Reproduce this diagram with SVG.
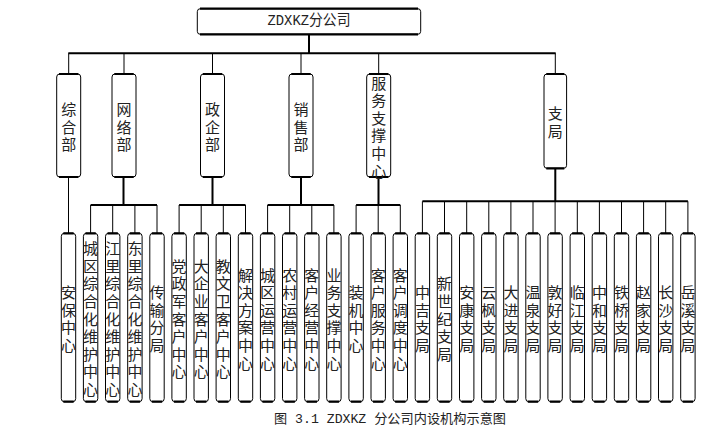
<svg xmlns="http://www.w3.org/2000/svg" width="725" height="434" viewBox="0 0 725 434">
<style>
.box{fill:#fff;stroke:#000;stroke-width:1}
.edge{fill:none;stroke:#000;stroke-width:2.2}
.t{font-family:"Noto Sans CJK SC","Liberation Sans",sans-serif;font-size:15px;fill:#222;text-anchor:middle;dominant-baseline:central}
.top{font-family:"Liberation Mono","Noto Sans CJK SC",monospace;font-size:15px;fill:#222;text-anchor:middle;dominant-baseline:central}
.cap{font-family:"Liberation Mono","Noto Sans CJK SC",monospace;font-size:13px;fill:#222}
.thick{fill:none;stroke:#000;stroke-width:2}
.thin{fill:none;stroke:#000;stroke-width:1}
</style>
<rect width="725" height="434" fill="#fff"/>
<g id="connectors">
<path class="thick" d="M309 34.3V53.3M68.3 53.3H555.7"/>
<path class="thin" d="M68.7 53.3V74M124 53.3V74M212.5 53.3V74M301 53.3V74M378.7 53.3V74M555.3 53.3V74"/>
<path class="thin" d="M68.5 177V233.3"/>
<path class="thick" d="M123.5 177V205M90.6 205H157M212.5 177V205M179.1 205H245.5M301 177V205M267.6 205H333.9M378.5 177V205M356.1 205H400.3M555.3 168.3V201.3M422.4 201.3H687.9"/>
<path class="thin" d="M90.6 205V233.3M112.7 205V233.3M134.9 205V233.3M157 205V233.3M179.1 205V233.3M201.2 205V233.3M223.3 205V233.3M245.5 205V233.3M267.6 205V233.3M289.7 205V233.3M311.8 205V233.3M333.9 205V233.3M356.1 205V233.3M378.2 205V233.3M400.3 205V233.3"/>
<path class="thin" d="M422.4 201.3V233.3M444.5 201.3V233.3M466.7 201.3V233.3M488.8 201.3V233.3M510.9 201.3V233.3M533 201.3V233.3M555.1 201.3V233.3M577.3 201.3V233.3M599.4 201.3V233.3M621.5 201.3V233.3M643.6 201.3V233.3M665.7 201.3V233.3M687.9 201.3V233.3"/>
</g>
<g id="root">
<rect class="box" x="197.3" y="8.7" width="223.4" height="25.6" rx="3"/>
<path class="edge" d="M200 8.7H418M200 34.3H418"/>
<text class="top" x="309" y="21" textLength="83" lengthAdjust="spacingAndGlyphs">ZDXKZ分公司</text>
</g>
<g id="n-zonghe">
<rect class="box" x="56.7" y="74" width="24" height="103" rx="3"/>
<path class="edge" d="M59 74H78.4M59 177H78.4"/>
<text class="t"><tspan x="68.7" y="107.9">综</tspan><tspan x="68.7" y="125.5">合</tspan><tspan x="68.7" y="143.1">部</tspan></text>
</g>
<g id="n-wangluo">
<rect class="box" x="112" y="74" width="24" height="103" rx="3"/>
<path class="edge" d="M114.3 74H133.7M114.3 177H133.7"/>
<text class="t"><tspan x="124" y="107.9">网</tspan><tspan x="124" y="125.5">络</tspan><tspan x="124" y="143.1">部</tspan></text>
</g>
<g id="n-zhengqi">
<rect class="box" x="200.5" y="74" width="24" height="103" rx="3"/>
<path class="edge" d="M202.8 74H222.2M202.8 177H222.2"/>
<text class="t"><tspan x="212.5" y="107.9">政</tspan><tspan x="212.5" y="125.5">企</tspan><tspan x="212.5" y="143.1">部</tspan></text>
</g>
<g id="n-xiaoshou">
<rect class="box" x="289" y="74" width="24" height="103" rx="3"/>
<path class="edge" d="M291.3 74H310.7M291.3 177H310.7"/>
<text class="t"><tspan x="301" y="107.9">销</tspan><tspan x="301" y="125.5">售</tspan><tspan x="301" y="143.1">部</tspan></text>
</g>
<g id="n-fuwu">
<rect class="box" x="366.7" y="74" width="24" height="103" rx="3"/>
<path class="edge" d="M369 74H388.4M369 177H388.4"/>
<text class="t"><tspan x="378.7" y="81.5">服</tspan><tspan x="378.7" y="99.1">务</tspan><tspan x="378.7" y="116.7">支</tspan><tspan x="378.7" y="134.3">撑</tspan><tspan x="378.7" y="151.9">中</tspan><tspan x="378.7" y="169.5">心</tspan></text>
</g>
<g id="n-zhiju">
<rect class="box" x="544" y="74" width="22.6" height="94.3" rx="3"/>
<path class="edge" d="M546.3 74H564.3M546.3 168.3H564.3"/>
<text class="t"><tspan x="555.3" y="112.4">支</tspan><tspan x="555.3" y="130">局</tspan></text>
</g>
<g id="b0"><rect class="box" x="61.3" y="233.3" width="14.4" height="168.4" rx="3"/><path class="edge" d="M63.3 233.3H73.7M63.3 401.7H73.7"/>
<text class="t"><tspan x="68.5" y="291.1">安</tspan><tspan x="68.5" y="308.7">保</tspan><tspan x="68.5" y="326.3">中</tspan><tspan x="68.5" y="343.9">心</tspan></text></g>
<g id="b1"><rect class="box" x="83.4" y="233.3" width="14.4" height="168.4" rx="3"/><path class="edge" d="M85.4 233.3H95.8M85.4 401.7H95.8"/>
<text class="t"><tspan x="90.6" y="247.1">城</tspan><tspan x="90.6" y="264.7">区</tspan><tspan x="90.6" y="282.3">综</tspan><tspan x="90.6" y="299.9">合</tspan><tspan x="90.6" y="317.5">化</tspan><tspan x="90.6" y="335.1">维</tspan><tspan x="90.6" y="352.7">护</tspan><tspan x="90.6" y="370.3">中</tspan><tspan x="90.6" y="387.9">心</tspan></text></g>
<g id="b2"><rect class="box" x="105.5" y="233.3" width="14.4" height="168.4" rx="3"/><path class="edge" d="M107.5 233.3H117.9M107.5 401.7H117.9"/>
<text class="t"><tspan x="112.7" y="247.1">江</tspan><tspan x="112.7" y="264.7">里</tspan><tspan x="112.7" y="282.3">综</tspan><tspan x="112.7" y="299.9">合</tspan><tspan x="112.7" y="317.5">化</tspan><tspan x="112.7" y="335.1">维</tspan><tspan x="112.7" y="352.7">护</tspan><tspan x="112.7" y="370.3">中</tspan><tspan x="112.7" y="387.9">心</tspan></text></g>
<g id="b3"><rect class="box" x="127.7" y="233.3" width="14.4" height="168.4" rx="3"/><path class="edge" d="M129.7 233.3H140.1M129.7 401.7H140.1"/>
<text class="t"><tspan x="134.9" y="247.1">东</tspan><tspan x="134.9" y="264.7">里</tspan><tspan x="134.9" y="282.3">综</tspan><tspan x="134.9" y="299.9">合</tspan><tspan x="134.9" y="317.5">化</tspan><tspan x="134.9" y="335.1">维</tspan><tspan x="134.9" y="352.7">护</tspan><tspan x="134.9" y="370.3">中</tspan><tspan x="134.9" y="387.9">心</tspan></text></g>
<g id="b4"><rect class="box" x="149.8" y="233.3" width="14.4" height="168.4" rx="3"/><path class="edge" d="M151.8 233.3H162.2M151.8 401.7H162.2"/>
<text class="t"><tspan x="157" y="291.1">传</tspan><tspan x="157" y="308.7">输</tspan><tspan x="157" y="326.3">分</tspan><tspan x="157" y="343.9">局</tspan></text></g>
<g id="b5"><rect class="box" x="171.9" y="233.3" width="14.4" height="168.4" rx="3"/><path class="edge" d="M173.9 233.3H184.3M173.9 401.7H184.3"/>
<text class="t"><tspan x="179.1" y="264.7">党</tspan><tspan x="179.1" y="282.3">政</tspan><tspan x="179.1" y="299.9">军</tspan><tspan x="179.1" y="317.5">客</tspan><tspan x="179.1" y="335.1">户</tspan><tspan x="179.1" y="352.7">中</tspan><tspan x="179.1" y="370.3">心</tspan></text></g>
<g id="b6"><rect class="box" x="194" y="233.3" width="14.4" height="168.4" rx="3"/><path class="edge" d="M196 233.3H206.4M196 401.7H206.4"/>
<text class="t"><tspan x="201.2" y="264.7">大</tspan><tspan x="201.2" y="282.3">企</tspan><tspan x="201.2" y="299.9">业</tspan><tspan x="201.2" y="317.5">客</tspan><tspan x="201.2" y="335.1">户</tspan><tspan x="201.2" y="352.7">中</tspan><tspan x="201.2" y="370.3">心</tspan></text></g>
<g id="b7"><rect class="box" x="216.1" y="233.3" width="14.4" height="168.4" rx="3"/><path class="edge" d="M218.1 233.3H228.5M218.1 401.7H228.5"/>
<text class="t"><tspan x="223.3" y="264.7">教</tspan><tspan x="223.3" y="282.3">文</tspan><tspan x="223.3" y="299.9">卫</tspan><tspan x="223.3" y="317.5">客</tspan><tspan x="223.3" y="335.1">户</tspan><tspan x="223.3" y="352.7">中</tspan><tspan x="223.3" y="370.3">心</tspan></text></g>
<g id="b8"><rect class="box" x="238.3" y="233.3" width="14.4" height="168.4" rx="3"/><path class="edge" d="M240.3 233.3H250.7M240.3 401.7H250.7"/>
<text class="t"><tspan x="245.5" y="273.5">解</tspan><tspan x="245.5" y="291.1">决</tspan><tspan x="245.5" y="308.7">方</tspan><tspan x="245.5" y="326.3">案</tspan><tspan x="245.5" y="343.9">中</tspan><tspan x="245.5" y="361.5">心</tspan></text></g>
<g id="b9"><rect class="box" x="260.4" y="233.3" width="14.4" height="168.4" rx="3"/><path class="edge" d="M262.4 233.3H272.8M262.4 401.7H272.8"/>
<text class="t"><tspan x="267.6" y="273.5">城</tspan><tspan x="267.6" y="291.1">区</tspan><tspan x="267.6" y="308.7">运</tspan><tspan x="267.6" y="326.3">营</tspan><tspan x="267.6" y="343.9">中</tspan><tspan x="267.6" y="361.5">心</tspan></text></g>
<g id="b10"><rect class="box" x="282.5" y="233.3" width="14.4" height="168.4" rx="3"/><path class="edge" d="M284.5 233.3H294.9M284.5 401.7H294.9"/>
<text class="t"><tspan x="289.7" y="273.5">农</tspan><tspan x="289.7" y="291.1">村</tspan><tspan x="289.7" y="308.7">运</tspan><tspan x="289.7" y="326.3">营</tspan><tspan x="289.7" y="343.9">中</tspan><tspan x="289.7" y="361.5">心</tspan></text></g>
<g id="b11"><rect class="box" x="304.6" y="233.3" width="14.4" height="168.4" rx="3"/><path class="edge" d="M306.6 233.3H317M306.6 401.7H317"/>
<text class="t"><tspan x="311.8" y="273.5">客</tspan><tspan x="311.8" y="291.1">户</tspan><tspan x="311.8" y="308.7">经</tspan><tspan x="311.8" y="326.3">营</tspan><tspan x="311.8" y="343.9">中</tspan><tspan x="311.8" y="361.5">心</tspan></text></g>
<g id="b12"><rect class="box" x="326.7" y="233.3" width="14.4" height="168.4" rx="3"/><path class="edge" d="M328.7 233.3H339.1M328.7 401.7H339.1"/>
<text class="t"><tspan x="333.9" y="273.5">业</tspan><tspan x="333.9" y="291.1">务</tspan><tspan x="333.9" y="308.7">支</tspan><tspan x="333.9" y="326.3">撑</tspan><tspan x="333.9" y="343.9">中</tspan><tspan x="333.9" y="361.5">心</tspan></text></g>
<g id="b13"><rect class="box" x="348.9" y="233.3" width="14.4" height="168.4" rx="3"/><path class="edge" d="M350.9 233.3H361.3M350.9 401.7H361.3"/>
<text class="t"><tspan x="356.1" y="291.1">装</tspan><tspan x="356.1" y="308.7">机</tspan><tspan x="356.1" y="326.3">中</tspan><tspan x="356.1" y="343.9">心</tspan></text></g>
<g id="b14"><rect class="box" x="371" y="233.3" width="14.4" height="168.4" rx="3"/><path class="edge" d="M373 233.3H383.4M373 401.7H383.4"/>
<text class="t"><tspan x="378.2" y="273.5">客</tspan><tspan x="378.2" y="291.1">户</tspan><tspan x="378.2" y="308.7">服</tspan><tspan x="378.2" y="326.3">务</tspan><tspan x="378.2" y="343.9">中</tspan><tspan x="378.2" y="361.5">心</tspan></text></g>
<g id="b15"><rect class="box" x="393.1" y="233.3" width="14.4" height="168.4" rx="3"/><path class="edge" d="M395.1 233.3H405.5M395.1 401.7H405.5"/>
<text class="t"><tspan x="400.3" y="273.5">客</tspan><tspan x="400.3" y="291.1">户</tspan><tspan x="400.3" y="308.7">调</tspan><tspan x="400.3" y="326.3">度</tspan><tspan x="400.3" y="343.9">中</tspan><tspan x="400.3" y="361.5">心</tspan></text></g>
<g id="b16"><rect class="box" x="415.2" y="233.3" width="14.4" height="168.4" rx="3"/><path class="edge" d="M417.2 233.3H427.6M417.2 401.7H427.6"/>
<text class="t"><tspan x="422.4" y="291.1">中</tspan><tspan x="422.4" y="308.7">吉</tspan><tspan x="422.4" y="326.3">支</tspan><tspan x="422.4" y="343.9">局</tspan></text></g>
<g id="b17"><rect class="box" x="437.3" y="233.3" width="14.4" height="168.4" rx="3"/><path class="edge" d="M439.3 233.3H449.7M439.3 401.7H449.7"/>
<text class="t"><tspan x="444.5" y="282.3">新</tspan><tspan x="444.5" y="299.9">世</tspan><tspan x="444.5" y="317.5">纪</tspan><tspan x="444.5" y="335.1">支</tspan><tspan x="444.5" y="352.7">局</tspan></text></g>
<g id="b18"><rect class="box" x="459.5" y="233.3" width="14.4" height="168.4" rx="3"/><path class="edge" d="M461.5 233.3H471.9M461.5 401.7H471.9"/>
<text class="t"><tspan x="466.7" y="291.1">安</tspan><tspan x="466.7" y="308.7">康</tspan><tspan x="466.7" y="326.3">支</tspan><tspan x="466.7" y="343.9">局</tspan></text></g>
<g id="b19"><rect class="box" x="481.6" y="233.3" width="14.4" height="168.4" rx="3"/><path class="edge" d="M483.6 233.3H494M483.6 401.7H494"/>
<text class="t"><tspan x="488.8" y="291.1">云</tspan><tspan x="488.8" y="308.7">枫</tspan><tspan x="488.8" y="326.3">支</tspan><tspan x="488.8" y="343.9">局</tspan></text></g>
<g id="b20"><rect class="box" x="503.7" y="233.3" width="14.4" height="168.4" rx="3"/><path class="edge" d="M505.7 233.3H516.1M505.7 401.7H516.1"/>
<text class="t"><tspan x="510.9" y="291.1">大</tspan><tspan x="510.9" y="308.7">进</tspan><tspan x="510.9" y="326.3">支</tspan><tspan x="510.9" y="343.9">局</tspan></text></g>
<g id="b21"><rect class="box" x="525.8" y="233.3" width="14.4" height="168.4" rx="3"/><path class="edge" d="M527.8 233.3H538.2M527.8 401.7H538.2"/>
<text class="t"><tspan x="533" y="291.1">温</tspan><tspan x="533" y="308.7">泉</tspan><tspan x="533" y="326.3">支</tspan><tspan x="533" y="343.9">局</tspan></text></g>
<g id="b22"><rect class="box" x="547.9" y="233.3" width="14.4" height="168.4" rx="3"/><path class="edge" d="M549.9 233.3H560.3M549.9 401.7H560.3"/>
<text class="t"><tspan x="555.1" y="291.1">敦</tspan><tspan x="555.1" y="308.7">好</tspan><tspan x="555.1" y="326.3">支</tspan><tspan x="555.1" y="343.9">局</tspan></text></g>
<g id="b23"><rect class="box" x="570.1" y="233.3" width="14.4" height="168.4" rx="3"/><path class="edge" d="M572.1 233.3H582.5M572.1 401.7H582.5"/>
<text class="t"><tspan x="577.3" y="291.1">临</tspan><tspan x="577.3" y="308.7">江</tspan><tspan x="577.3" y="326.3">支</tspan><tspan x="577.3" y="343.9">局</tspan></text></g>
<g id="b24"><rect class="box" x="592.2" y="233.3" width="14.4" height="168.4" rx="3"/><path class="edge" d="M594.2 233.3H604.6M594.2 401.7H604.6"/>
<text class="t"><tspan x="599.4" y="291.1">中</tspan><tspan x="599.4" y="308.7">和</tspan><tspan x="599.4" y="326.3">支</tspan><tspan x="599.4" y="343.9">局</tspan></text></g>
<g id="b25"><rect class="box" x="614.3" y="233.3" width="14.4" height="168.4" rx="3"/><path class="edge" d="M616.3 233.3H626.7M616.3 401.7H626.7"/>
<text class="t"><tspan x="621.5" y="291.1">铁</tspan><tspan x="621.5" y="308.7">桥</tspan><tspan x="621.5" y="326.3">支</tspan><tspan x="621.5" y="343.9">局</tspan></text></g>
<g id="b26"><rect class="box" x="636.4" y="233.3" width="14.4" height="168.4" rx="3"/><path class="edge" d="M638.4 233.3H648.8M638.4 401.7H648.8"/>
<text class="t"><tspan x="643.6" y="291.1">赵</tspan><tspan x="643.6" y="308.7">家</tspan><tspan x="643.6" y="326.3">支</tspan><tspan x="643.6" y="343.9">局</tspan></text></g>
<g id="b27"><rect class="box" x="658.5" y="233.3" width="14.4" height="168.4" rx="3"/><path class="edge" d="M660.5 233.3H670.9M660.5 401.7H670.9"/>
<text class="t"><tspan x="665.7" y="291.1">长</tspan><tspan x="665.7" y="308.7">沙</tspan><tspan x="665.7" y="326.3">支</tspan><tspan x="665.7" y="343.9">局</tspan></text></g>
<g id="b28"><rect class="box" x="680.7" y="233.3" width="14.4" height="168.4" rx="3"/><path class="edge" d="M682.7 233.3H693.1M682.7 401.7H693.1"/>
<text class="t"><tspan x="687.9" y="291.1">岳</tspan><tspan x="687.9" y="308.7">溪</tspan><tspan x="687.9" y="326.3">支</tspan><tspan x="687.9" y="343.9">局</tspan></text></g>
<text class="cap" x="274" y="423" textLength="232" lengthAdjust="spacingAndGlyphs">图 3.1 ZDXKZ 分公司内设机构示意图</text>
</svg>
